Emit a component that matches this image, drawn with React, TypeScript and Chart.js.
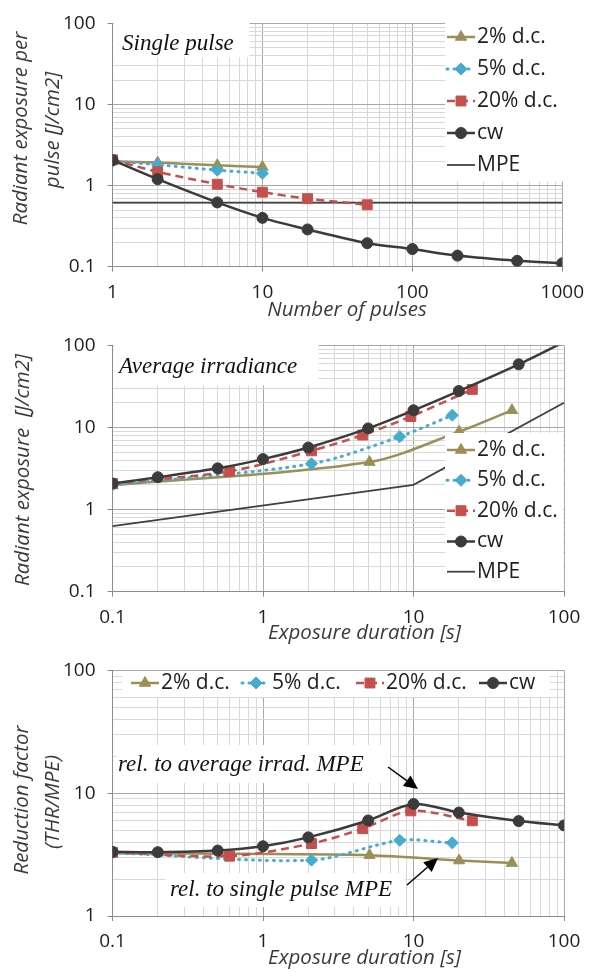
import React, { useEffect, useRef } from 'react';
import { Chart, registerables } from 'chart.js';
import { drawPoint } from 'chart.js/helpers';

Chart.register(...registerables);

// ---------------- data ----------------
// Chart 1: radiant exposure per pulse vs number of pulses
const PULSES_2 = [1, 2, 5, 10];
const PULSE_2_VALUES = [1.99, 1.92, 1.78, 1.7];
const PULSES_5 = [1, 2, 5, 10];
const PULSE_5_VALUES = [2.0, 1.81, 1.55, 1.42];
const PULSES_20 = [1, 2, 5, 10, 20, 50];
const PULSE_20_VALUES = [2.08, 1.48, 1.04, 0.83, 0.69, 0.58];
const PULSES_CW = [1, 2, 5, 10, 20, 50, 100, 200, 500, 1000];
const PULSE_CW_VALUES = [2.06, 1.2, 0.62, 0.4, 0.288, 0.195, 0.165, 0.137, 0.118, 0.11];
const PULSES_MPE = [1, 1000];
const PULSE_MPE_VALUES = [0.617, 0.617];

// Chart 2: radiant exposure vs exposure duration
const DUR_2 = [0.1, 5.1, 20.1, 45.1];
const AVG_2_VALUES = [1.97, 3.79, 8.9, 16.2];
const DUR_5 = [0.1, 2.1, 8.1, 18.1];
const AVG_5_VALUES = [2.0, 3.62, 7.74, 14.1];
const DUR_20 = [0.1, 0.6, 2.1, 4.6, 9.6, 24.6];
const AVG_20_VALUES = [2.08, 2.93, 5.2, 8.1, 13.6, 29.1];
const DUR_CW = [0.1, 0.2, 0.5, 1, 2, 5, 10, 20, 50, 100];
const AVG_CW_VALUES = [2.08, 2.48, 3.18, 4.12, 5.7, 9.75, 16.2, 27.8, 58.8, 110];
const DUR_MPE = [0.1, 10, 100];
const AVG_MPE_VALUES = [0.63, 2.0, 20];

// Chart 3: reduction factor vs exposure duration
const RED_2_VALUES = [3.25, 3.13, 2.83, 2.7];
const RED_5_VALUES = [3.27, 2.85, 4.13, 3.94];
const RED_20_VALUES = [3.3, 3.07, 3.89, 5.14, 7.18, 5.96];
const RED_CW_VALUES = [3.33, 3.31, 3.41, 3.7, 4.37, 6.0, 8.17, 6.96, 5.93, 5.47];

// tick labels
const X1_TICK_LABELS = ['1', '10', '100', '1000'];
const X23_TICK_LABELS = ['0.1', '1', '10', '100'];
const Y12_TICK_LABELS = ['0.1', '1', '10', '100'];
const Y3_TICK_LABELS = ['1', '10', '100'];

const SERIES_LABELS = ['2% d.c.', '5% d.c.', '20% d.c.', 'cw', 'MPE'];

// ---------------- styling ----------------
const W = 593;
const PLOT_LEFT = 112.5;
const PLOT_RIGHT = 564;

const MAJOR_GRID = '#a8a8a8';
const MINOR_GRID = '#d8d8d8';
const AXIS_COLOR = '#8c8c8c';
const TICK_COLOR = '#1e1e1e';
const TITLE_COLOR = '#3a3a3a';
const TICK_FONT = { family: '"Open Sans", sans-serif', size: 19 };
const TITLE_FONT = 'italic 20.5px "Open Sans", sans-serif';
const LEGEND_FONT = '21px "Open Sans", sans-serif';
const NOTE_FONT = 'italic 23px "Liberation Serif", serif';

const OLIVE = '#9b8f55';
const AQUA = '#45acd0';
const RED = '#c4504e';
const DARK = '#3b3b3b';
const MPE_COLOR = '#404040';

const STYLE_2 = { borderColor: OLIVE, borderWidth: 2.5, pointStyle: 'triangle', r: 6.5, tension: 0.3 };
const STYLE_5 = { borderColor: AQUA, borderWidth: 3, borderDash: [1, 6], borderCapStyle: 'round', pointStyle: 'rectRot', r: 6, tension: 0.3 };
const STYLE_20 = { borderColor: RED, borderWidth: 2.5, borderDash: [8, 5], pointStyle: 'rect', r: 7, tension: 0.3 };
const STYLE_CW = { borderColor: DARK, borderWidth: 2.5, pointStyle: 'circle', r: 5.5, tension: 0.3 };
const STYLE_MPE = { borderColor: MPE_COLOR, borderWidth: 1.8, pointStyle: 'circle', r: 0, tension: 0 };

const isDecade = (v: number) => Math.abs(Math.log10(v) - Math.round(Math.log10(v))) < 1e-6;

function logGrid(min: number, max: number) {
  const out: number[] = [];
  for (let e = Math.floor(Math.log10(min)); e <= Math.ceil(Math.log10(max)); e++) {
    for (let m = 1; m <= 9; m++) {
      const v = Number((m * Math.pow(10, e)).toPrecision(6));
      if (v >= min * 0.9999 && v <= max * 1.0001) out.push(v);
    }
  }
  return out;
}

function logAxis(min: number, max: number, labels: string[], isX: boolean, size: number) {
  return {
    type: 'logarithmic',
    min,
    max,
    afterBuildTicks: (s: any) => {
      s.ticks = logGrid(min, max).map((value) => ({ value }));
    },
    afterFit: (s: any) => {
      if (isX) s.height = size;
      else s.width = size;
    },
    ticks: {
      autoSkip: false,
      maxRotation: 0,
      minRotation: 0,
      padding: isX ? 9 : 12,
      color: TICK_COLOR,
      font: TICK_FONT,
      callback: (v: number) => labels.find((l) => Math.abs(parseFloat(l) - v) <= 1e-6 * v) ?? '',
    },
    grid: {
      color: (c: any) => (c.tick && isDecade(c.tick.value) ? MAJOR_GRID : MINOR_GRID),
      tickColor: (c: any) => (c.tick && isDecade(c.tick.value) ? AXIS_COLOR : 'rgba(0,0,0,0)'),
      tickLength: 5,
      lineWidth: 1,
    },
    border: { color: AXIS_COLOR, width: 1 },
  };
}

function series(label: string, xs: number[], ys: number[], style: any, order: number) {
  const r = style.r;
  return {
    label,
    data: xs.map((x, i) => ({ x, y: ys[i] })),
    order,
    ...style,
    backgroundColor: style.borderColor,
    pointBackgroundColor: style.borderColor,
    pointBorderColor: style.borderColor,
    pointBorderWidth: 1,
    pointRadius: (c: any) => (c.raw && c.raw.y > c.chart.scales.y.max * 1.001 ? 0 : r),
    pointHoverRadius: r,
  };
}

function drawLegendItem(ctx: CanvasRenderingContext2D, ds: any, x: number, y: number, text: string) {
  const len = 28;
  ctx.save();
  ctx.strokeStyle = ds.borderColor;
  ctx.lineWidth = ds.borderWidth;
  ctx.setLineDash(ds.borderDash || []);
  ctx.lineCap = ds.borderCapStyle || 'butt';
  ctx.beginPath();
  ctx.moveTo(x, y);
  ctx.lineTo(x + len, y);
  ctx.stroke();
  ctx.setLineDash([]);
  ctx.lineCap = 'butt';
  if (ds.r > 0) {
    ctx.fillStyle = ds.borderColor;
    ctx.strokeStyle = ds.borderColor;
    ctx.lineWidth = 1;
    drawPoint(ctx, { pointStyle: ds.pointStyle, radius: ds.r, rotation: 0, borderWidth: 1 } as any, x + len / 2, y);
  }
  ctx.fillStyle = TICK_COLOR;
  ctx.font = LEGEND_FONT;
  ctx.textAlign = 'left';
  ctx.textBaseline = 'middle';
  ctx.fillText(text, x + len + 2, y);
  ctx.restore();
}

function drawArrow(ctx: CanvasRenderingContext2D, x1: number, y1: number, x2: number, y2: number) {
  const ang = Math.atan2(y2 - y1, x2 - x1);
  const hl = 14;
  const hw = 6.5;
  const bx = x2 - hl * Math.cos(ang);
  const by = y2 - hl * Math.sin(ang);
  ctx.save();
  ctx.strokeStyle = '#000';
  ctx.lineWidth = 1.5;
  ctx.beginPath();
  ctx.moveTo(x1, y1);
  ctx.lineTo(bx, by);
  ctx.stroke();
  ctx.fillStyle = '#000';
  ctx.beginPath();
  ctx.moveTo(x2, y2);
  ctx.lineTo(bx - hw * Math.sin(ang), by + hw * Math.cos(ang));
  ctx.lineTo(bx + hw * Math.sin(ang), by - hw * Math.cos(ang));
  ctx.closePath();
  ctx.fill();
  ctx.restore();
}

type Spec = {
  key: string;
  boxes: number[][];
  legend: { ds: number; x: number; y: number }[];
  notes: { text: string; x: number; y: number }[];
  arrows: number[][];
  xTitle: { text: string; x: number; y: number };
  yTitles: { text: string; x: number; y: number }[];
};

function overlay(spec: Spec) {
  return {
    id: 'overlay' + spec.key,
    afterDatasetsDraw(chart: any) {
      const ctx: CanvasRenderingContext2D = chart.ctx;
      ctx.save();
      ctx.fillStyle = '#ffffff';
      for (const [x, y, w, h] of spec.boxes) ctx.fillRect(x, y, w, h);
      for (const it of spec.legend) {
        const ds = chart.data.datasets[it.ds];
        drawLegendItem(ctx, ds, it.x, it.y, ds.label);
      }
      ctx.font = NOTE_FONT;
      ctx.fillStyle = '#111';
      ctx.textAlign = 'left';
      ctx.textBaseline = 'alphabetic';
      for (const n of spec.notes) ctx.fillText(n.text, n.x, n.y);
      for (const a of spec.arrows) drawArrow(ctx, a[0], a[1], a[2], a[3]);
      ctx.font = TITLE_FONT;
      ctx.fillStyle = TITLE_COLOR;
      ctx.textAlign = 'center';
      ctx.textBaseline = 'middle';
      ctx.fillText(spec.xTitle.text, spec.xTitle.x, spec.xTitle.y);
      for (const t of spec.yTitles) {
        ctx.save();
        ctx.translate(t.x, t.y);
        ctx.rotate(-Math.PI / 2);
        ctx.fillText(t.text, 0, 0);
        ctx.restore();
      }
      ctx.restore();
    },
  };
}

function makeConfig(o: {
  height: number;
  plotTop: number;
  plotBottom: number;
  x: [number, number, string[]];
  y: [number, number, string[]];
  datasets: any[];
  spec: Spec;
}) {
  return {
    type: 'line',
    data: { datasets: o.datasets },
    options: {
      responsive: false,
      animation: false,
      events: [],
      layout: { padding: { top: o.plotTop, right: W - PLOT_RIGHT, bottom: 0, left: 0 } },
      plugins: { legend: { display: false }, tooltip: { enabled: false } },
      scales: {
        x: logAxis(o.x[0], o.x[1], o.x[2], true, o.height - o.plotBottom),
        y: logAxis(o.y[0], o.y[1], o.y[2], false, PLOT_LEFT),
      },
    },
    plugins: [overlay(o.spec)],
  } as any;
}

const CHART1 = () =>
  makeConfig({
    height: 322,
    plotTop: 18.3,
    plotBottom: 266.7,
    x: [1, 1000, X1_TICK_LABELS],
    y: [0.1, 100, Y12_TICK_LABELS],
    datasets: [
      series(SERIES_LABELS[0], PULSES_2, PULSE_2_VALUES, STYLE_2, 3),
      series(SERIES_LABELS[1], PULSES_5, PULSE_5_VALUES, STYLE_5, 2),
      series(SERIES_LABELS[2], PULSES_20, PULSE_20_VALUES, STYLE_20, 1),
      series(SERIES_LABELS[3], PULSES_CW, PULSE_CW_VALUES, STYLE_CW, 0),
      series(SERIES_LABELS[4], PULSES_MPE, PULSE_MPE_VALUES, STYLE_MPE, 4),
    ],
    spec: {
      key: '1',
      boxes: [
        [113.5, 19.5, 136, 38],
        [445, 19.5, 118, 162],
      ],
      legend: [
        { ds: 0, x: 447, y: 37 },
        { ds: 1, x: 447, y: 69 },
        { ds: 2, x: 447, y: 101 },
        { ds: 3, x: 447, y: 133 },
        { ds: 4, x: 447, y: 165 },
      ],
      notes: [{ text: 'Single pulse', x: 122, y: 50 }],
      arrows: [],
      xTitle: { text: 'Number of pulses', x: 347, y: 310 },
      yTitles: [
        { text: 'Radiant exposure per', x: 21.5, y: 128.5 },
        { text: 'pulse [J/cm2]', x: 53, y: 130 },
      ],
    },
  });

const CHART2 = () =>
  makeConfig({
    height: 325,
    plotTop: 21.3,
    plotBottom: 269.7,
    x: [0.1, 100, X23_TICK_LABELS],
    y: [0.1, 100, Y12_TICK_LABELS],
    datasets: [
      series(SERIES_LABELS[0], DUR_2, AVG_2_VALUES, STYLE_2, 3),
      series(SERIES_LABELS[1], DUR_5, AVG_5_VALUES, STYLE_5, 2),
      series(SERIES_LABELS[2], DUR_20, AVG_20_VALUES, STYLE_20, 1),
      series(SERIES_LABELS[3], DUR_CW, AVG_CW_VALUES, STYLE_CW, 0),
      series(SERIES_LABELS[4], DUR_MPE, AVG_MPE_VALUES, STYLE_MPE, 4),
    ],
    spec: {
      key: '2',
      boxes: [
        [113.5, 22.5, 205, 41],
        [445, 111, 118, 157.5],
      ],
      legend: [
        { ds: 0, x: 447, y: 128 },
        { ds: 1, x: 447, y: 158.3 },
        { ds: 2, x: 447, y: 188.7 },
        { ds: 3, x: 447, y: 219.5 },
        { ds: 4, x: 447, y: 249.7 },
      ],
      notes: [{ text: 'Average irradiance', x: 119, y: 51.3 }],
      arrows: [],
      xTitle: { text: 'Exposure duration [s]', x: 364.5, y: 311 },
      yTitles: [{ text: 'Radiant exposure  [J/cm2]', x: 23, y: 148 }],
    },
  });

const CHART3 = () =>
  makeConfig({
    height: 325,
    plotTop: 21.3,
    plotBottom: 269,
    x: [0.1, 100, X23_TICK_LABELS],
    y: [1, 100, Y3_TICK_LABELS],
    datasets: [
      series(SERIES_LABELS[0], DUR_2, RED_2_VALUES, STYLE_2, 3),
      series(SERIES_LABELS[1], DUR_5, RED_5_VALUES, STYLE_5, 2),
      series(SERIES_LABELS[2], DUR_20, RED_20_VALUES, STYLE_20, 1),
      series(SERIES_LABELS[3], DUR_CW, RED_CW_VALUES, STYLE_CW, 0),
    ],
    spec: {
      key: '3',
      boxes: [
        [122, 24, 428, 26],
        [116, 98, 274, 38],
        [165, 226, 240, 34],
      ],
      legend: [
        { ds: 0, x: 131, y: 36 },
        { ds: 1, x: 242, y: 36 },
        { ds: 2, x: 356, y: 36 },
        { ds: 3, x: 479, y: 36 },
      ],
      notes: [
        { text: 'rel. to average irrad. MPE', x: 118, y: 123.7 },
        { text: 'rel. to single pulse MPE', x: 170, y: 249 },
      ],
      arrows: [
        [388, 120, 418, 142],
        [407, 238, 438, 211],
      ],
      xTitle: { text: 'Exposure duration [s]', x: 364.5, y: 311 },
      yTitles: [
        { text: 'Reduction factor', x: 22, y: 153 },
        { text: '(THR/MPE)', x: 53, y: 155 },
      ],
    },
  });

function ChartCanvas({ top, height, build }: { top: number; height: number; build: () => any }) {
  const ref = useRef<HTMLCanvasElement>(null);
  useEffect(() => {
    const chart = new Chart(ref.current as HTMLCanvasElement, build());
    return () => chart.destroy();
  }, []);
  return (
    <canvas
      ref={ref}
      width={W}
      height={height}
      style={{ position: 'absolute', left: 0, top, width: W, height, display: 'block' }}
    />
  );
}

export default function App() {
  return (
    <div style={{ position: 'absolute', left: 0, top: 0, width: W, height: 972, background: '#fff', overflow: 'hidden' }}>
      <ChartCanvas top={0} height={322} build={CHART1} />
      <ChartCanvas top={322} height={325} build={CHART2} />
      <ChartCanvas top={647} height={325} build={CHART3} />
    </div>
  );
}
